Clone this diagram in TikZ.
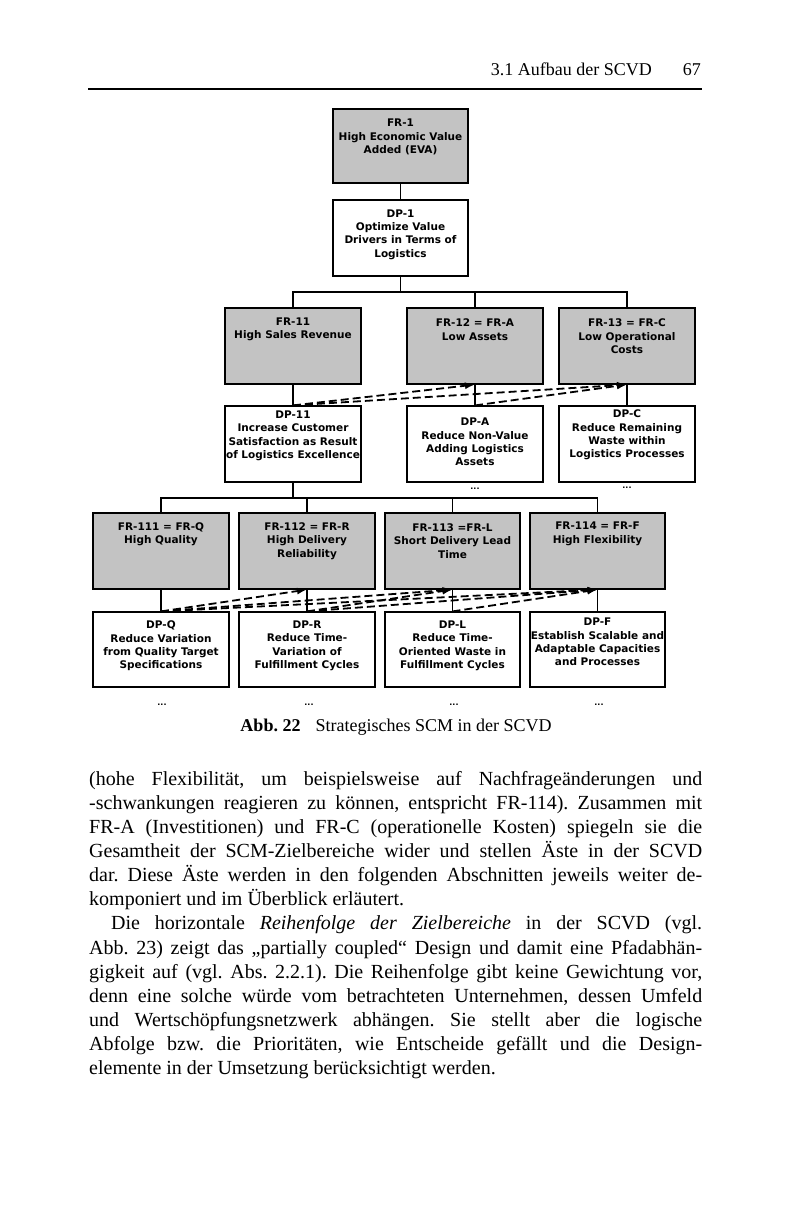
\documentclass[tikz,border=0pt]{standalone}
\usepackage{fontspec}
\setmainfont{Liberation Serif}
\newfontfamily\boxfont{DejaVu Sans}
\usetikzlibrary{arrows.meta}
\definecolor{frgray}{RGB}{195,195,195}
\frenchspacing
\begin{document}
\begin{tikzpicture}[x=1pt,y=-1pt,
  box/.style={draw=black,line width=1.2pt,minimum width=136pt,minimum height=76pt,inner sep=0pt},
  frbox/.style={box,fill=frgray},
  dpbox/.style={box,fill=white},
  bt/.style={font=\boxfont\bfseries\fontsize{10.5}{13.4}\selectfont,align=center,inner sep=0pt},
  link/.style={line width=1.2pt},
  dep/.style={line width=1.8pt,dash pattern=on 8pt off 4pt,-{Latex[length=10pt,width=7pt]}},
  dots/.style={font=\boxfont\bfseries\fontsize{8}{8}\selectfont,inner sep=0pt},
  ]
\fill[white] (0,0) rectangle (800,1214);
\useasboundingbox (0,0) rectangle (800,1214);

% header
\node[anchor=base east,inner sep=0pt,font=\fontsize{18}{20}\selectfont] (hdr) at (652,76) {3.1 Aufbau der SCVD};
\node[anchor=base east,inner sep=0pt,font=\fontsize{18}{20}\selectfont] (pg) at (701,76) {67};
\coordinate (r1) at (88,89);
\coordinate (r2) at (702,89);
\draw[line width=1.3pt] (r1) -- (r2);

% level 1
\node[frbox,minimum width=135pt,minimum height=74pt] (fr1) at (400.5,146) {};
\node[dpbox,minimum width=135pt] (dp1) at (400.5,238) {};
\node[bt] (fr1t) at (400.5,137) {FR-1\\High Economic Value\\Added (EVA)};
\node[bt] (dp1t) at (400.5,234.5) {DP-1\\Optimize Value\\Drivers in Terms of\\Logistics};

% level 2
\node[frbox] (fr11) at (293,346) {};
\node[frbox] (fr12) at (475,346) {};
\node[frbox] (fr13) at (627,346) {};
\node[dpbox] (dp11) at (293,444) {};
\node[dpbox] (dpa) at (475,444) {};
\node[dpbox] (dpc) at (627,444) {};
\node[bt] (fr11t) at (293,329.5) {FR-11\\High Sales Revenue};
\node[bt] (fr12t) at (475,329.5) {FR-12 = FR-A\\Low Assets};
\node[bt] (fr13t) at (627,336.5) {FR-13 = FR-C\\Low Operational\\Costs};
\node[bt] (dp11t) at (293,436) {DP-11\\Increase Customer\\Satisfaction as Result\\of Logistics Excellence};
\node[bt] (dpat) at (475,442) {DP-A\\Reduce Non-Value\\Adding Logistics\\Assets};
\node[bt] (dpct) at (627,435) {DP-C\\Reduce Remaining\\Waste within\\Logistics Processes};
\node[dots] (dda) at (475,489) {...};
\node[dots] (ddc) at (627,488) {...};

\coordinate (b2) at (400.5,292);
\draw[link] (dp1.south) -- (b2);
\draw[link] (fr11.north) |- (b2) -| (fr13.north);
\draw[link] (fr12.north) -- (fr12.north |- b2);
\draw[link] (fr1.south) -- (dp1.north);
\draw[link] (fr11.south) -- (dp11.north);
\draw[link] (fr12.south) -- (dpa.north);
\draw[link] (fr13.south) -- (dpc.north);

% level 3
\node[frbox] (fr111) at (161,551) {};
\node[frbox] (fr112) at (307,551) {};
\node[frbox,minimum width=135pt] (fr113) at (452.5,551) {};
\node[frbox,minimum width=135pt] (fr114) at (597.5,551) {};
\node[dpbox,minimum height=75pt] (dpq) at (161,649.5) {};
\node[dpbox,minimum height=75pt] (dpr) at (307,649.5) {};
\node[dpbox,minimum height=75pt,minimum width=135pt] (dpl) at (452.5,649.5) {};
\node[dpbox,minimum height=75pt,minimum width=135pt] (dpf) at (597.5,649.5) {};
\node[bt] (fr111t) at (161,534) {FR-111 = FR-Q\\High Quality};
\node[bt] (fr112t) at (307,541) {FR-112 = FR-R\\High Delivery\\Reliability};
\node[bt] (fr113t) at (452.5,541) {FR-113 =FR-L\\Short Delivery Lead\\Time};
\node[bt] (fr114t) at (597.5,534) {FR-114 = FR-F\\High Flexibility};
\node[bt] (dpqt) at (161,646) {DP-Q\\Reduce Variation\\from Quality Target\\Specifications};
\node[bt] (dprt) at (307,646) {DP-R\\Reduce Time-\\Variation of\\Fulfillment Cycles};
\node[bt] (dplt) at (452.5,646) {DP-L\\Reduce Time-\\Oriented Waste in\\Fulfillment Cycles};
\node[bt] (dpft) at (597.5,642) {DP-F\\Establish Scalable and\\Adaptable Capacities\\and Processes};
\node[dots] (ddq) at (162,705) {...};
\node[dots] (ddr) at (309,705) {...};
\node[dots] (ddl) at (454,705) {...};
\node[dots] (ddf) at (599,705) {...};

\coordinate (b3) at (293,498);
\draw[link] (dp11.south) -- (b3);
\draw[link] (fr111.north) |- (b3) -| (fr114.north);
\draw[link] (fr112.north) -- (fr112.north |- b3);
\draw[link] (fr113.north) -- (fr113.north |- b3);
\draw[link] (fr111.south) -- (dpq.north);
\draw[link] (fr112.south) -- (dpr.north);
\draw[link] (fr113.south) -- (dpl.north);
\draw[link] (fr114.south) -- (dpf.north);

% dependencies
\draw[dep] (dp11.north) -- (fr12.south);
\draw[dep] (dp11.north) -- (fr13.south);
\draw[dep] (dpa.north) -- (fr13.south);
\draw[dep] (dpq.north) -- (fr112.south);
\draw[dep] (dpq.north) -- (fr113.south);
\draw[dep] (dpq.north) -- (fr114.south);
\draw[dep] (dpr.north) -- (fr113.south);
\draw[dep] (dpr.north) -- (fr114.south);
\draw[dep] (dpl.north) -- (fr114.south);

% caption
\node[anchor=base,inner sep=0pt,font=\fontsize{18}{20}\selectfont] (cap) at (396,731) {\textbf{Abb. 22}\hspace{15pt}Strategisches SCM in der SCVD};

% body text
\node[anchor=base west,inner sep=0pt] (body) at (89,785) {\parbox[t]{613pt}{\fontsize{20}{24.15}\selectfont\frenchspacing
\makebox[613pt][s]{(hohe Flexibilität, um beispielsweise auf Nachfrageänderungen und}\\
\makebox[613pt][s]{-schwankungen reagieren zu können, entspricht FR-114). Zusammen mit}\\
\makebox[613pt][s]{FR-A (Investitionen) und FR-C (operationelle Kosten) spiegeln sie die}\\
\makebox[613pt][s]{Gesamtheit der SCM-Zielbereiche wider und stellen Äste in der SCVD}\\
\makebox[613pt][s]{dar. Diese Äste werden in den folgenden Abschnitten jeweils weiter de-}\\
komponiert und im Überblick erläutert.\\
\makebox[613pt][s]{\hspace*{22pt}Die horizontale \textit{Reihenfolge der Zielbereiche} in der SCVD (vgl.}\\
\makebox[613pt][s]{Abb. 23) zeigt das „partially coupled“ Design und damit eine Pfadabhän-}\\
\makebox[613pt][s]{gigkeit auf (vgl. Abs. 2.2.1). Die Reihenfolge gibt keine Gewichtung vor,}\\
\makebox[613pt][s]{denn eine solche würde vom betrachteten Unternehmen, dessen Umfeld}\\
\makebox[613pt][s]{und Wertschöpfungsnetzwerk abhängen. Sie stellt aber die logische}\\
\makebox[613pt][s]{Abfolge bzw. die Prioritäten, wie Entscheide gefällt und die Design-}\\
elemente in der Umsetzung berücksichtigt werden.}};
\end{tikzpicture}
\end{document}
